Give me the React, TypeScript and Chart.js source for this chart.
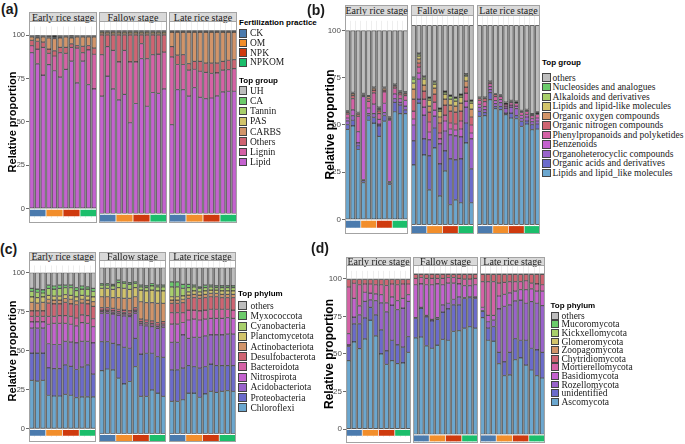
import React, { useEffect, useRef } from "react";
import { Chart, registerables } from "chart.js";

Chart.register(...registerables);
Chart.defaults.font.family = "'Liberation Sans', Arial, sans-serif";

// ---------------- categories ----------------
const stages = ["Early rice stage", "Fallow stage", "Late rice stage"];
const sampleIds = ["CK1", "CK2", "CK3", "OM1", "OM2", "OM3", "NPK1", "NPK2", "NPK3", "NPKOM1", "NPKOM2", "NPKOM3"];
const treatments = ["CK", "OM", "NPK", "NPKOM"];
const yTicks = [0, 25, 50, 75, 100];

// ---------------- colours ----------------
const treatmentColors = ["#4B7BAE", "#F28E2B", "#CF3A0E", "#1BBE6B"];
const C_BLUE = "#6BA7CF";
const C_INDIGO = "#6B6BCB";
const C_PURPLE = "#9963CB";
const C_MAGENTA = "#C462CF";
const C_PINK = "#D562A6";
const C_RED = "#CF6472";
const C_TAN = "#D29469";
const C_OLIVE = "#D2C46B";
const C_LGREEN = "#A8CF6B";
const C_GREEN = "#6CCB6B";
const C_GRAY = "#BDBDBD";

// ---------------- panel (a) values: Early(12) | Fallow(12) | Late(12) ----------------
const aLipid = [90, 83.5, 77, 83, 79.5, 75.8, 80.3, 85, 72.5, 85, 71.5, 69, 64, 75, 68, 62, 65, 49.5, 60, 84.5, 58.5, 66, 65.5, 68, 48.5, 67.6, 67.6, 64, 68.7, 63.3, 62.7, 63, 64.2, 66.4, 66.7, 66.7];
const aLignin = [4, 8.5, 16, 6.5, 8.5, 14.2, 9.2, 8, 20, 5, 20, 20, 22.7, 16, 21, 20.7, 24, 33.2, 22.7, 8.2, 26, 20.7, 21.5, 20, 37, 13.7, 13.7, 14.2, 10, 14.3, 14.3, 13.4, 12.5, 11.8, 11.8, 12.3];
const aOthers = [3, 4.5, 3, 2.5, 3, 3, 3.5, 2, 1.5, 3.5, 2.5, 3.5, 10.8, 6.5, 8.5, 14.8, 8.5, 14.8, 14.8, 4.8, 13, 10.8, 10.5, 9.5, 5.5, 5.1, 5.4, 3.6, 4.3, 5.4, 5, 5.6, 5.3, 4.8, 5.1, 5];
const aCarbs = [2, 2, 3, 6.5, 7, 5.5, 6, 3.5, 5, 5.5, 5, 6.5, 1, 1, 1, 1, 1, 1, 1, 1, 1, 1, 1, 1, 8, 12.6, 12.3, 17.2, 16, 16, 17, 17, 17, 16, 15.4, 15];
const aPas = [0.3, 0.4, 0.3, 0.3, 0.5, 0.4, 0.3, 0.4, 0.3, 0.3, 0.3, 0.3, 0.8, 0.8, 0.8, 0.8, 0.8, 0.8, 0.8, 0.8, 0.8, 0.8, 0.8, 0.8, 0.4, 0.4, 0.4, 0.4, 0.4, 0.4, 0.4, 0.4, 0.4, 0.4, 0.4, 0.4];
const aTannin = [0.2, 0.3, 0.2, 0.3, 0.4, 0.3, 0.2, 0.3, 0.2, 0.2, 0.2, 0.2, 0.2, 0.2, 0.2, 0.2, 0.2, 0.2, 0.2, 0.2, 0.2, 0.2, 0.2, 0.2, 0.2, 0.2, 0.2, 0.2, 0.2, 0.2, 0.2, 0.2, 0.2, 0.2, 0.2, 0.2];
const aCa = [0.2, 0.4, 0.2, 0.6, 0.7, 0.5, 0.2, 0.4, 0.2, 0.2, 0.2, 0.2, 0.2, 0.2, 0.2, 0.2, 0.2, 0.2, 0.2, 0.2, 0.2, 0.2, 0.2, 0.2, 0.1, 0.1, 0.1, 0.1, 0.1, 0.1, 0.1, 0.1, 0.1, 0.1, 0.1, 0.1];
const aUh = [0.3, 0.4, 0.3, 0.3, 0.4, 0.3, 0.3, 0.4, 0.3, 0.3, 0.3, 0.3, 0.3, 0.3, 0.3, 0.3, 0.3, 0.3, 0.3, 0.3, 0.3, 0.3, 0.3, 0.3, 0.3, 0.3, 0.3, 0.3, 0.3, 0.3, 0.3, 0.3, 0.3, 0.3, 0.3, 0.3];

// ---------------- panel (b) values ----------------
const bLipidLike = [47.7, 49.5, 37, 19.5, 52.5, 51, 44, 52, 18.5, 57, 56, 56, 30, 61, 35, 17.5, 38.5, 14.5, 27, 10, 12.5, 11, 41, 11, 54.3, 54.7, 62.7, 58.2, 57.7, 55.2, 53.5, 53.2, 49.3, 50.5, 47.7, 48];
const bAcids = [2.5, 3, 2, 1, 2.5, 3, 5.5, 3, 1, 5, 4.5, 2, 12, 2, 8, 17, 10, 16, 10, 23, 20, 22, 10, 17, 2.5, 1.5, 3.5, 1, 1.5, 0.8, 2.5, 1.5, 2.5, 1.5, 2.5, 2.5];
const bOrganohet = [2, 2.5, 1.5, 0.5, 1, 2, 1, 1.5, 0.5, 2, 1.5, 2, 8, 10, 12, 8, 6, 10, 10, 12, 12, 11, 8, 15, 2, 1.5, 1.5, 1.5, 2, 2.5, 3, 3.5, 1.5, 2, 1.5, 1.5];
const bBenzenoids = [1.5, 3, 6, 44, 3, 5, 2.5, 5, 32.5, 2.5, 2, 3, 3, 3, 4, 4, 3, 2.5, 5, 3, 3, 4, 3, 3, 1.5, 1.5, 1.5, 1.5, 1.5, 1, 1, 1.3, 1.5, 1.3, 1.5, 1.5];
const bPhenyl = [2, 6, 8, 0.5, 3.5, 6, 3, 6, 0.5, 3, 2, 2.5, 4, 3, 4, 5, 4, 3, 3, 3, 3, 4, 4, 4, 2, 2.5, 1.5, 2, 1.5, 1, 1.2, 1.3, 1.5, 1.5, 1.5, 1.8];
const bNitrogen = [1, 1.5, 1, 0.5, 1.5, 1.5, 1.5, 1, 0.5, 1, 1, 1, 6, 2, 4, 5, 4, 5, 5, 6, 6, 5, 3, 4, 1, 1.5, 0.8, 1, 0.6, 0.6, 0.6, 0.7, 0.6, 0.6, 0.5, 0.7];
const bOxygen = [0.5, 1, 0.7, 0.3, 1, 1, 0.8, 1, 0.4, 0.6, 0.6, 0.5, 5, 2, 3, 3, 3, 3, 3, 3, 3, 4, 3, 4, 0.5, 0.6, 0.3, 0.4, 0.3, 0.2, 0.3, 0.3, 0.3, 0.3, 0.3, 0.4];
const bLipids = [0.2, 0.5, 0.3, 0.2, 0.3, 0.3, 0.5, 0.3, 0.2, 0.3, 0.3, 0.3, 3, 1.5, 3, 3, 2, 3, 2.5, 3, 2.5, 3, 2.5, 3, 0.1, 0.1, 0.1, 0.1, 0.1, 0.1, 0.1, 0.1, 0.1, 0.1, 0.1, 0.1];
const bAlkaloids = [0.1, 0.2, 0.1, 0.1, 0.1, 0.2, 0.3, 0.1, 0.1, 0.1, 0.1, 0.1, 2, 1, 1, 1, 1, 1, 1, 1.5, 1.5, 1, 0.8, 1, 0.05, 0.05, 0.05, 0.05, 0.05, 0.05, 0.05, 0.05, 0.05, 0.05, 0.05, 0.05];
const bNucleosides = [0.1, 0.1, 0.1, 0.1, 0.1, 0.1, 0.3, 0.1, 0.1, 0.1, 0.1, 0.1, 1, 0.5, 0.5, 0.5, 0.5, 0.5, 0.5, 0.5, 0.5, 0.5, 0.3, 0.5, 0.05, 0.05, 0.05, 0.05, 0.05, 0.05, 0.05, 0.05, 0.05, 0.05, 0.05, 0.05];
const bOthers = [42.4, 32.7, 43.3, 33.3, 34.5, 29.9, 40.6, 30, 45.7, 28.4, 31.9, 32.5, 26, 14, 25.5, 36, 28, 41.5, 33, 35, 36, 34.5, 24.4, 37.5, 36, 36, 28, 34.2, 34.7, 38.5, 37.7, 38, 42.6, 42.1, 44.3, 43.4];

// ---------------- panel (c) values ----------------
const cChloroflexi = [31, 30.5, 31, 21.5, 21, 21, 22, 21.5, 20, 20.5, 20.5, 20.5, 38, 39, 38.5, 33.5, 30, 31.5, 40.5, 22.5, 22.5, 26.5, 24.5, 22.5, 19.5, 19.5, 20.5, 24.5, 24.5, 22, 24, 25.5, 25, 25.5, 26, 25.5];
const cProteo = [17.5, 18, 17.5, 17.5, 17.5, 17.5, 19, 18.5, 18, 19, 20.5, 14.5, 17.5, 16.5, 16, 20, 22, 20, 17, 25.5, 26, 22, 22, 23.5, 19, 19, 19, 16.5, 16, 17.5, 16.5, 16.5, 16, 15.5, 15, 15.5];
const cAcido = [16, 16, 16, 15.5, 15.5, 15.5, 15, 15.5, 17, 16.5, 15, 20, 17, 17, 17.5, 18, 19, 19, 15, 17.5, 16.5, 16, 17, 18, 16.5, 16.5, 20, 16.5, 17.5, 18.5, 18.5, 17.5, 18.5, 18.5, 19, 19];
const cNitro = [4, 4, 4, 12.5, 13.5, 13.5, 11.5, 11.5, 11, 12, 11.5, 10.5, 1, 1, 1, 1, 1, 1, 1, 1, 1, 1, 1, 1, 11, 11, 7.5, 11, 11, 10.5, 10, 10, 10, 10, 10, 9.5];
const cBactero = [3.5, 3.5, 3.5, 5, 4.5, 5, 5, 5, 5, 5, 5, 5, 1, 1, 1, 1, 1, 1, 1, 1, 1, 1, 1, 1, 7, 7, 6, 6, 5.5, 5.5, 5.5, 5.5, 5.5, 5.5, 5, 5];
const cDesulfo = [3.5, 3.5, 3.5, 8.5, 8, 7.5, 8.5, 8, 8.5, 7.5, 7.5, 8, 1.5, 1.5, 1.5, 1.5, 1.5, 1.5, 1.5, 1.5, 1.5, 1.5, 1.5, 1.5, 5.5, 5.5, 6, 7, 7.5, 7.5, 7.5, 7.5, 7.5, 7, 7, 7.5];
const cActino = [5.5, 5, 5.5, 2.5, 2.5, 2.5, 2.5, 3, 2.5, 2.5, 2.5, 3, 6.5, 6.5, 6.5, 7, 7, 7.5, 6.5, 10.5, 10.5, 11, 11.5, 11, 2, 2, 2, 2, 2, 2, 2, 2, 2, 2, 2, 2];
const cPlancto = [3.5, 3.5, 3.5, 2.5, 2.5, 2.5, 2.5, 2.5, 2.5, 2.5, 2.5, 3, 5, 5, 5, 6, 6, 5.5, 5.5, 7, 7, 7.5, 7.5, 7.5, 2, 2, 2, 2, 2, 2, 2, 2, 2, 2, 2, 2];
const cCyano = [3.5, 3.5, 2.5, 4.5, 4.5, 5, 4.5, 5, 4, 4, 4.5, 3.5, 2, 2, 2, 3, 3, 3, 2.5, 2, 2, 2.5, 2.5, 2.5, 6, 6, 4.5, 2.5, 2.5, 2, 2, 2, 1.5, 2, 2, 2];
const cMyxo = [2, 2, 2, 2, 2, 2, 1.5, 1.5, 2, 2, 1.5, 2, 1, 1, 1, 1.5, 1, 1, 1, 1, 1, 1.5, 1, 1, 3, 3, 2.5, 2, 1, 1, 1.5, 1, 1, 1, 1, 1];
const cOthers = [10, 10.5, 11, 8, 8.5, 8, 8, 8, 9.5, 8.5, 9, 10, 9.5, 9.5, 10, 7.5, 8.5, 9, 8.5, 10.5, 11, 9.5, 10.5, 10.5, 8.5, 8.5, 10, 10, 10.5, 11.5, 10.5, 10.5, 11, 11, 11, 11];

// ---------------- panel (d) values ----------------
const dAsco = [45.5, 58, 53.5, 60, 72.5, 62, 50, 43, 45.5, 43.5, 44, 51, 60, 60.5, 55, 53.5, 55.5, 59, 58.5, 64, 64.5, 66, 67, 66, 72.5, 58.5, 58, 44, 36.5, 37, 46.5, 47.5, 43, 40, 36.5, 35];
const dUnident = [9.5, 12, 16.5, 14, 8.5, 14, 16, 9, 13.5, 12.5, 10.5, 10.5, 12, 18, 18, 17, 16, 17, 19.5, 16.5, 16, 18.5, 18, 18.5, 4, 7.5, 9, 7, 8.5, 14, 13, 11, 15.5, 13.5, 16, 16];
const dRozello = [1, 4.5, 6, 11, 5, 9.5, 18, 26, 23.5, 23.5, 26, 23.5, 0.5, 0.5, 1, 1, 1, 4.5, 3.5, 3.5, 5, 0.5, 0.5, 1, 0.5, 4, 4, 27, 34.5, 29.5, 23.5, 25, 23, 29, 29, 29];
const dBasidio = [7.5, 12.5, 6, 6, 4.5, 4.5, 5.5, 6, 5.5, 6, 6.5, 4.5, 20.5, 14.5, 19, 21.5, 21, 12.5, 12.5, 10, 8, 7.5, 7, 7.5, 2, 4, 3, 8, 7.5, 7.5, 6, 6.5, 8.5, 8, 7.5, 9];
const dMortier = [31, 10, 14, 5.5, 6, 6, 6.5, 11.5, 8.5, 10.5, 9.5, 7, 4, 4, 4, 4, 3.5, 4, 3.5, 3.5, 3.5, 4, 4, 4, 16, 21, 21, 8, 7.5, 7, 6, 5, 5.5, 3.5, 4.5, 4];
const dChytrid = [5, 2.5, 3.5, 3, 3, 3.5, 3.5, 4, 3, 3.5, 3, 3, 2.5, 2, 2.5, 2.5, 2.5, 2.5, 2, 2, 2.5, 3, 3, 2.5, 4.5, 4.5, 4.5, 5.5, 5, 4.5, 4.5, 4.5, 4, 5.5, 6, 6.5];
const dZoopago = [0.15, 0.15, 0.15, 0.15, 0.15, 0.15, 0.15, 0.15, 0.15, 0.15, 0.15, 0.15, 0.15, 0.15, 0.15, 0.15, 0.15, 0.15, 0.15, 0.15, 0.15, 0.15, 0.15, 0.15, 0.15, 0.15, 0.15, 0.15, 0.15, 0.15, 0.15, 0.15, 0.15, 0.15, 0.15, 0.15];
const dGlomero = [0.1, 0.1, 0.1, 0.1, 0.1, 0.1, 0.1, 0.1, 0.1, 0.1, 0.1, 0.1, 0.1, 0.1, 0.1, 0.1, 0.1, 0.1, 0.1, 0.1, 0.1, 0.1, 0.1, 0.1, 0.1, 0.1, 0.1, 0.1, 0.1, 0.1, 0.1, 0.1, 0.1, 0.1, 0.1, 0.1];
const dKickx = [0.05, 0.05, 0.05, 0.05, 0.05, 0.05, 0.05, 0.05, 0.05, 0.05, 0.05, 0.05, 0.05, 0.05, 0.05, 0.05, 0.05, 0.05, 0.05, 0.05, 0.05, 0.05, 0.05, 0.05, 0.05, 0.05, 0.05, 0.05, 0.05, 0.05, 0.05, 0.05, 0.05, 0.05, 0.05, 0.05];
const dMucoro = [0.05, 0.05, 0.05, 0.05, 0.05, 0.05, 0.05, 0.05, 0.05, 0.05, 0.05, 0.05, 0.05, 0.05, 0.05, 0.05, 0.05, 0.05, 0.05, 0.05, 0.05, 0.05, 0.05, 0.05, 0.05, 0.05, 0.05, 0.05, 0.05, 0.05, 0.05, 0.05, 0.05, 0.05, 0.05, 0.05];
const dOthers = [0.15, 0.15, 0.15, 0.15, 0.15, 0.15, 0.15, 0.15, 0.15, 0.15, 0.15, 0.15, 0.15, 0.15, 0.15, 0.15, 0.15, 0.15, 0.15, 0.15, 0.15, 0.15, 0.15, 0.15, 0.15, 0.15, 0.15, 0.15, 0.15, 0.15, 0.15, 0.15, 0.15, 0.15, 0.15, 0.15];

// ---------------- series (bottom -> top of stack) ----------------
type Series = { name: string; color: string; values: number[] };

const seriesA: Series[] = [
  { name: "Lipid", color: C_MAGENTA, values: aLipid },
  { name: "Lignin", color: C_PINK, values: aLignin },
  { name: "Others", color: C_RED, values: aOthers },
  { name: "CARBS", color: C_TAN, values: aCarbs },
  { name: "PAS", color: C_OLIVE, values: aPas },
  { name: "Tannin", color: C_LGREEN, values: aTannin },
  { name: "CA", color: C_GREEN, values: aCa },
  { name: "UH", color: C_GRAY, values: aUh },
];
const seriesB: Series[] = [
  { name: "Lipids and lipid_like molecules", color: C_BLUE, values: bLipidLike },
  { name: "Organic acids and derivatives", color: C_INDIGO, values: bAcids },
  { name: "Organoheterocyclic compounds", color: C_PURPLE, values: bOrganohet },
  { name: "Benzenoids", color: C_MAGENTA, values: bBenzenoids },
  { name: "Phenylpropanoids and polyketides", color: C_PINK, values: bPhenyl },
  { name: "Organic nitrogen compounds", color: C_RED, values: bNitrogen },
  { name: "Organic oxygen compounds", color: C_TAN, values: bOxygen },
  { name: "Lipids and lipid-like molecules", color: C_OLIVE, values: bLipids },
  { name: "Alkaloids and derivatives", color: C_LGREEN, values: bAlkaloids },
  { name: "Nucleosides and analogues", color: C_GREEN, values: bNucleosides },
  { name: "others", color: C_GRAY, values: bOthers },
];
const seriesC: Series[] = [
  { name: "Chloroflexi", color: C_BLUE, values: cChloroflexi },
  { name: "Proteobacteria", color: C_INDIGO, values: cProteo },
  { name: "Acidobacteriota", color: C_PURPLE, values: cAcido },
  { name: "Nitrospirota", color: C_MAGENTA, values: cNitro },
  { name: "Bacteroidota", color: C_PINK, values: cBactero },
  { name: "Desulfobacterota", color: C_RED, values: cDesulfo },
  { name: "Actinobacteriota", color: C_TAN, values: cActino },
  { name: "Planctomycetota", color: C_OLIVE, values: cPlancto },
  { name: "Cyanobacteria", color: C_LGREEN, values: cCyano },
  { name: "Myxococcota", color: C_GREEN, values: cMyxo },
  { name: "others", color: C_GRAY, values: cOthers },
];
const seriesD: Series[] = [
  { name: "Ascomycota", color: C_BLUE, values: dAsco },
  { name: "unidentified", color: C_INDIGO, values: dUnident },
  { name: "Rozellomycota", color: C_PURPLE, values: dRozello },
  { name: "Basidiomycota", color: C_MAGENTA, values: dBasidio },
  { name: "Mortierellomycota", color: C_PINK, values: dMortier },
  { name: "Chytridiomycota", color: C_RED, values: dChytrid },
  { name: "Zoopagomycota", color: C_TAN, values: dZoopago },
  { name: "Glomeromycota", color: C_OLIVE, values: dGlomero },
  { name: "Kickxellomycota", color: C_LGREEN, values: dKickx },
  { name: "Mucoromycota", color: C_GREEN, values: dMucoro },
  { name: "others", color: C_GRAY, values: dOthers },
];

// ---------------- layout (positions / styles) ----------------
const TILE_RANGE = [-4.4, -0.7];
const GAP_COLOR = "#8d8d8d";
const BAR_BORDER = "#303030";
const FRAME = "#a3a3a3";

type Layout = {
  label: string; labelX: number; labelY: number;
  facets: number[][]; stripTop: number; plotTop: number; plotBottom: number;
  y0: number; y100: number; axisLeft: number; titleSize: number; tickSize: number;
  legendX: number; textX: number; boxW: number; boxH: number;
  legendTitle: string; titleY: number; firstY: number; step: number;
  fert?: { titleY: number; firstY: number; step: number };
};

const layoutA: Layout = {
  label: "(a)", labelX: 1, labelY: 2,
  facets: [[29, 97], [99, 167], [169, 237]], stripTop: 12, plotTop: 21, plotBottom: 223,
  y0: 213.5, y100: 30.2, axisLeft: 6, titleSize: 11, tickSize: 7.5,
  legendX: 239, textX: 250, boxW: 8, boxH: 8.5,
  legendTitle: "Top group", titleY: 81, firstY: 90.7, step: 10.2,
  fert: { titleY: 22.7, firstY: 33.3, step: 9.67 },
};
const layoutB: Layout = {
  label: "(b)", labelX: 307, labelY: 3,
  facets: [[345, 408], [411, 474], [477, 540]], stripTop: 5, plotTop: 15, plotBottom: 234,
  y0: 224.7, y100: 25.3, axisLeft: 323, titleSize: 12, tickSize: 8,
  legendX: 542, textX: 552.5, boxW: 8.5, boxH: 8.5,
  legendTitle: "Top group", titleY: 63.3, firstY: 77.7, step: 9.53,
};
const layoutC: Layout = {
  label: "(c)", labelX: 0, labelY: 242,
  facets: [[29, 96], [99, 166], [169, 236]], stripTop: 252, plotTop: 260, plotBottom: 442,
  y0: 433.8, y100: 267.7, axisLeft: 6, titleSize: 11, tickSize: 7.5,
  legendX: 238, textX: 250.5, boxW: 9, boxH: 9,
  legendTitle: "Top phylum", titleY: 294.3, firstY: 305.7, step: 10.2,
};
const layoutD: Layout = {
  label: "(d)", labelX: 311, labelY: 241,
  facets: [[346, 411], [413, 478], [480, 545]], stripTop: 257, plotTop: 265, plotBottom: 443,
  y0: 434.3, y100: 273.5, axisLeft: 322, titleSize: 12, tickSize: 8,
  legendX: 550.5, textX: 561.5, boxW: 8.5, boxH: 7.8,
  legendTitle: "Top phylum", titleY: 305.7, firstY: 315.7, step: 8.6,
};

const gapPlugin = {
  id: "barGap",
  beforeDatasetsDraw(chart: any) {
    const { ctx, chartArea, scales } = chart;
    const top = scales.y.getPixelForValue(100);
    const bottom = scales.y.getPixelForValue(0);
    ctx.save();
    ctx.fillStyle = GAP_COLOR;
    ctx.fillRect(chartArea.left, top, chartArea.right - chartArea.left, bottom - top);
    ctx.restore();
  },
};

function FacetChart({ series, layout, f }: { series: Series[]; layout: Layout; f: number }) {
  const ref = useRef<HTMLCanvasElement>(null);
  const withAxis = f === 0;
  const [x0, x1] = layout.facets[f];
  const left = withAxis ? layout.axisLeft : x0;
  const width = x1 - left;
  const height = layout.plotBottom - layout.plotTop;

  useEffect(() => {
    const ppu = (layout.y0 - layout.y100) / 100;
    const yMin = -(layout.plotBottom - layout.y0) / ppu;
    const yMax = 100 + (layout.y100 - layout.plotTop) / ppu;
    const base = sampleIds.map(() => 0);
    const datasets: any[] = series.map((s) => {
      const data = sampleIds.map((_, i) => {
        const v = s.values[f * 12 + i];
        const seg = [base[i], base[i] + v];
        base[i] += v;
        return seg;
      });
      return {
        label: s.name,
        data,
        backgroundColor: s.color,
        borderColor: BAR_BORDER,
        borderWidth: 0.6,
        borderSkipped: false,
        grouped: false,
        barPercentage: 0.8,
        categoryPercentage: 1,
        xAxisID: "x",
      };
    });
    datasets.push({
      label: "Fertilization practice",
      data: treatments.map(() => [TILE_RANGE[0], TILE_RANGE[1]]),
      backgroundColor: treatmentColors,
      borderWidth: 0,
      grouped: false,
      barPercentage: 1,
      categoryPercentage: 0.95,
      xAxisID: "xg",
    });

    const yScale: any = {
      type: "linear",
      min: yMin,
      max: yMax,
      display: withAxis,
      afterBuildTicks: (s: any) => { s.ticks = yTicks.map((v) => ({ value: v })); },
      ticks: { color: "#4d4d4d", font: { size: layout.tickSize }, padding: 1, callback: (v: any) => String(v) },
      grid: { display: true, drawOnChartArea: false, drawTicks: true, tickLength: 3, color: "#444", lineWidth: 0.8 },
      border: { display: false },
      title: {
        display: true,
        text: "Relative proportion",
        color: "#000",
        font: { size: layout.titleSize, weight: "bold" },
        padding: 0,
      },
    };
    if (withAxis) {
      yScale.afterFit = (s: any) => { s.width = x0 - layout.axisLeft; };
    }

    const chart = new Chart(ref.current as HTMLCanvasElement, {
      type: "bar",
      data: { labels: sampleIds, datasets },
      options: {
        responsive: false,
        maintainAspectRatio: false,
        animation: false,
        devicePixelRatio: 1,
        events: [],
        layout: { padding: 0, autoPadding: false },
        plugins: { legend: { display: false }, tooltip: { enabled: false }, title: { display: false } },
        scales: {
          x: {
            type: "category",
            offset: true,
            grid: { display: true, offset: true, color: "#e2e2e2", lineWidth: 0.6, drawTicks: false },
            ticks: { display: false },
            border: { display: false },
            afterFit: (s: any) => { s.height = 0; },
          },
          xg: { type: "category", labels: treatments, offset: true, display: false },
          y: yScale,
        },
      } as any,
      plugins: [gapPlugin],
    });
    return () => chart.destroy();
  }, []);

  return (
    <canvas
      ref={ref}
      width={width}
      height={height}
      style={{ position: "absolute", left, top: layout.plotTop, width, height }}
    />
  );
}

function LegendBlock({ x, textX, boxW, boxH, title, titleY, firstY, step, items }: any) {
  return (
    <>
      <div style={{ position: "absolute", left: x, top: titleY - 5, height: 10, lineHeight: "10px", fontFamily: "'Liberation Sans', Arial, sans-serif", fontWeight: "bold", fontSize: 8, color: "#000", whiteSpace: "nowrap" }}>{title}</div>
      {items.map((it: any, k: number) => {
        const cy = firstY + k * step;
        return (
          <React.Fragment key={it.name}>
            <div style={{ position: "absolute", left: x, top: cy - boxH / 2, width: boxW, height: boxH, background: it.color, border: "0.8px solid #444", boxSizing: "border-box" }} />
            <div style={{ position: "absolute", left: textX, top: cy - 6, height: 12, lineHeight: "12px", fontFamily: "'Liberation Serif', 'Times New Roman', serif", fontSize: 9.5, color: "#1a1a1a", whiteSpace: "nowrap" }}>{it.name}</div>
          </React.Fragment>
        );
      })}
    </>
  );
}

function Panel({ series, layout }: { series: Series[]; layout: Layout }) {
  const legendItems = [...series].reverse().map((s) => ({ name: s.name, color: s.color }));
  return (
    <>
      <div style={{ position: "absolute", left: layout.labelX, top: layout.labelY, fontFamily: "'Liberation Sans', Arial, sans-serif", fontWeight: "bold", fontSize: 14, lineHeight: "14px", color: "#1a1a1a" }}>{layout.label}</div>
      {stages.map((st, f) => {
        const [x0, x1] = layout.facets[f];
        return (
          <React.Fragment key={st}>
            <div style={{ position: "absolute", left: x0, top: layout.stripTop, width: x1 - x0, height: layout.plotTop - layout.stripTop + 1, background: "#d9d9d9", border: `1px solid ${FRAME}`, boxSizing: "border-box", display: "flex", justifyContent: "center", alignItems: "center", fontFamily: "'Liberation Serif', 'Times New Roman', serif", fontSize: 10, color: "#1a1a1a", whiteSpace: "nowrap" }}>
              <span>{st}</span>
            </div>
            <FacetChart series={series} layout={layout} f={f} />
            <div style={{ position: "absolute", left: x0, top: layout.plotTop, width: x1 - x0, height: layout.plotBottom - layout.plotTop, border: `1px solid ${FRAME}`, boxSizing: "border-box", pointerEvents: "none" }} />
          </React.Fragment>
        );
      })}
      {layout.fert && (
        <LegendBlock x={layout.legendX} textX={layout.textX} boxW={layout.boxW} boxH={layout.boxH}
          title="Fertilization practice" titleY={layout.fert.titleY} firstY={layout.fert.firstY} step={layout.fert.step}
          items={treatments.map((t, i) => ({ name: t, color: treatmentColors[i] }))} />
      )}
      <LegendBlock x={layout.legendX} textX={layout.textX} boxW={layout.boxW} boxH={layout.boxH}
        title={layout.legendTitle} titleY={layout.titleY} firstY={layout.firstY} step={layout.step} items={legendItems} />
    </>
  );
}

export default function App() {
  return (
    <div style={{ position: "fixed", left: 0, top: 0, width: 685, height: 444, background: "#fff", overflow: "hidden" }}>
      <Panel series={seriesA} layout={layoutA} />
      <Panel series={seriesB} layout={layoutB} />
      <Panel series={seriesC} layout={layoutC} />
      <Panel series={seriesD} layout={layoutD} />
    </div>
  );
}
